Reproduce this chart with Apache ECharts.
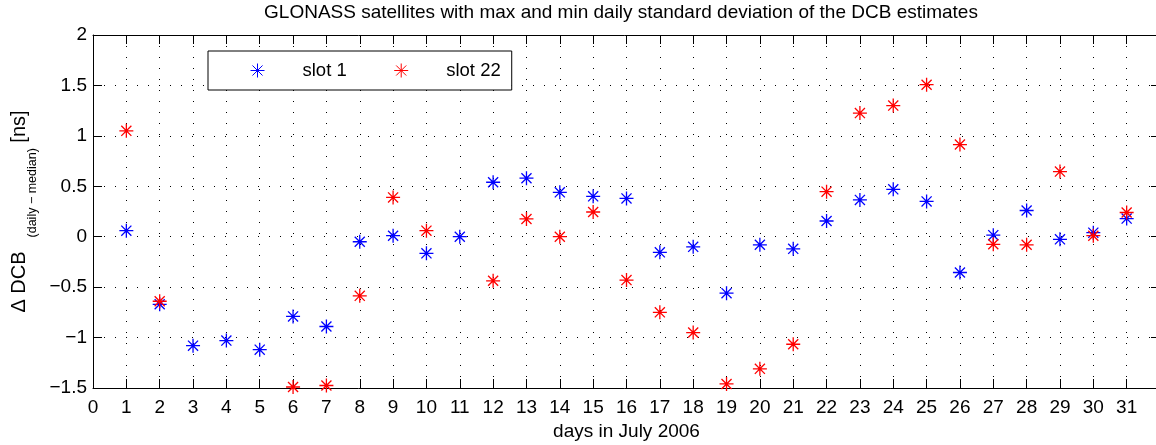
<!DOCTYPE html>
<html>
<head>
<meta charset="utf-8">
<script src="https://cdn.jsdelivr.net/npm/echarts@6/dist/echarts.min.js"></script>
<style>
html,body{margin:0;padding:0;background:#fff;}
#chart{width:1156px;height:445px;}
</style>
</head>
<body>
<div id="chart"></div>
<script>
const days = [1,2,3,4,5,6,7,8,9,10,11,12,13,14,15,16,17,18,19,20,21,22,23,24,25,26,27,28,29,30,31];
const slot1 = [0.06,-0.67,-1.08,-1.03,-1.12,-0.79,-0.89,-0.05,0.01,-0.165,0.0,0.54,0.58,0.44,0.40,0.38,-0.155,-0.10,-0.56,-0.08,-0.12,0.156,0.365,0.47,0.35,-0.355,0.015,0.26,-0.026,0.04,0.18];
const slot22 = [1.05,-0.64,null,null,null,-1.49,-1.475,-0.586,0.39,0.06,null,-0.437,0.176,0.0,0.245,-0.43,-0.75,-0.95,-1.46,-1.31,-1.066,0.447,1.226,1.30,1.507,0.914,-0.075,-0.08,0.646,0.01,0.24];
const seriesNames = ['slot 1','slot 22'];
const colors = ['#0000ff','#ff0000'];
const titleText = 'GLONASS satellites with max and min daily standard deviation of the DCB estimates';
const xName = 'days in July 2006';

const star = 'path://M0,-1L0,1M-1,0L1,0M-0.72,-0.72L0.72,0.72M-0.72,0.72L0.72,-0.72';
const font = 'Liberation Sans, Arial, Helvetica, sans-serif';
const fmt = v => String(v).replace('-', '\u2212');

function pairs(vals){ return days.map((d,i)=>[d, vals[i]]).filter(p=>p[1]!==null); }

const chart = echarts.init(document.getElementById('chart'), null, {renderer:'canvas'});
const axisCommon = {
  axisLine:{show:true, onZero:false, lineStyle:{color:'#000', width:1}},
  axisTick:{show:true, inside:true, length:9, lineStyle:{color:'#000'}},
};
chart.setOption({
  animation:false,
  backgroundColor:'#fff',
  title:{text:titleText, left:616, textAlign:'center', top:-2,
    textStyle:{fontFamily:font, fontSize:19, fontWeight:'normal', color:'#000'}},
  legend:{
    left:208, top:51, padding:[10,11,10,42], itemGap:47,
    itemWidth:14, itemHeight:14,
    borderColor:'#000', borderWidth:1, backgroundColor:'#fff', borderRadius:0,
    textStyle:{fontFamily:font, fontSize:18.5, color:'#000', padding:[0,0,0,33]},
    data: seriesNames.map((n,i)=>({name:n, icon:star,
      itemStyle:{color:colors[i], borderColor:colors[i], borderWidth:1}}))
  },
  grid:{left:93, top:35, right:-4, bottom:57, containLabel:false, outerBoundsMode:'none'},
  xAxis:[
    Object.assign({type:'value', min:0, max:32, interval:1, position:'bottom',
      name:xName, nameLocation:'middle', nameGap:34,
      nameTextStyle:{fontFamily:font, fontSize:19, color:'#000'},
      axisLabel:{fontFamily:font, fontSize:19, color:'#000', margin:10, showMaxLabel:false},
      splitLine:{show:true, lineStyle:{color:'#000', width:1, type:[1,10]}}}, axisCommon),
    Object.assign({type:'value', min:0, max:32, interval:1, position:'top',
      axisLabel:{show:false}, splitLine:{show:false}}, axisCommon)
  ],
  yAxis:[
    Object.assign({type:'value', min:-1.5, max:2, interval:0.5, position:'left',
      name:'{a|\u0394 DCB}{b|(daily \u2212 median)}{a| [ns]}', nameLocation:'middle', nameGap:58, nameRotate:90,
      nameTextStyle:{fontFamily:font, color:'#000',
        rich:{a:{fontFamily:font, fontSize:20, color:'#000'},
              b:{fontFamily:font, fontSize:12.5, color:'#000', verticalAlign:'bottom', padding:[0,0,-9,14]}}},
      axisLabel:{fontFamily:font, fontSize:19, color:'#000', margin:6, formatter:fmt},
      splitLine:{show:true, lineStyle:{color:'#000', width:1, type:[1,10]}}}, axisCommon),
    Object.assign({type:'value', min:-1.5, max:2, interval:0.5, position:'right',
      axisLabel:{show:false}, splitLine:{show:false}}, axisCommon)
  ],
  series: [slot1, slot22].map((vals,i)=>({
    name:seriesNames[i], type:'scatter', symbol:star, symbolSize:14,
    itemStyle:{color:colors[i], borderColor:colors[i], borderWidth:1.3, opacity:1},
    data:pairs(vals), z:5
  }))
});
</script>
</body>
</html>
